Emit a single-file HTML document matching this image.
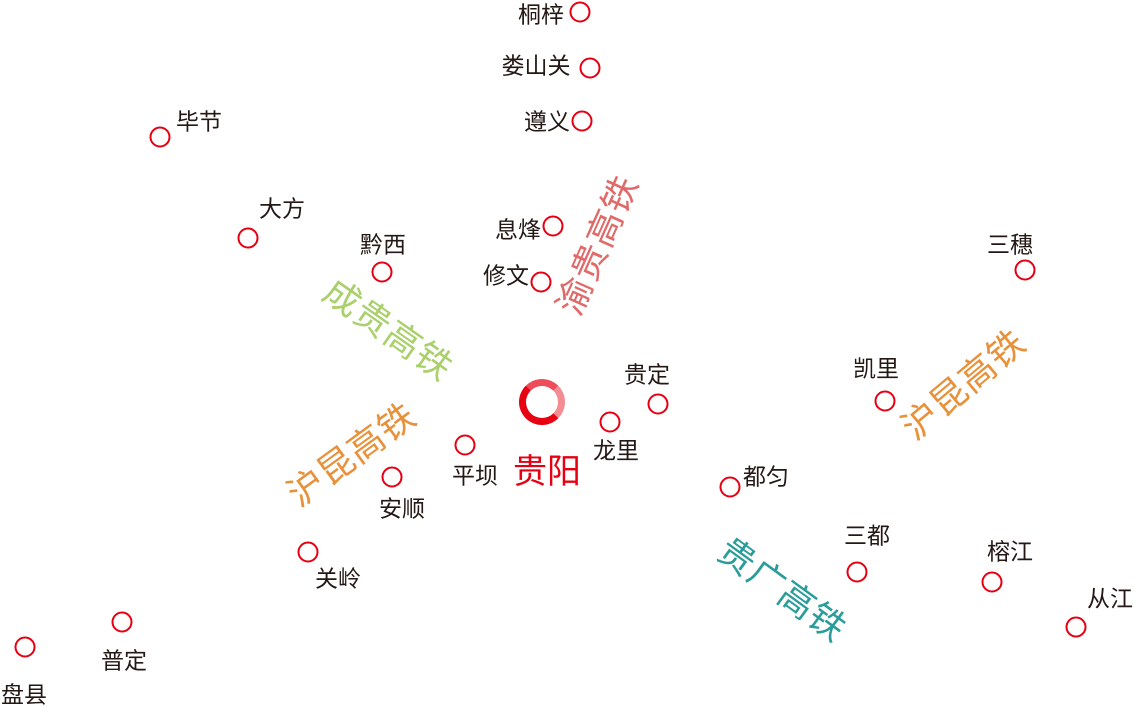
<!DOCTYPE html>
<html><head><meta charset="utf-8"><style>
html,body{margin:0;padding:0;background:#fff;}
#c{position:relative;width:1134px;height:706px;overflow:hidden;font-family:"Liberation Sans","Noto Sans CJK SC",sans-serif;}
.d{position:absolute;width:17px;height:17px;border:2.2px solid #e60012;border-radius:50%;transform:translate(-50%,-50%);box-sizing:content-box;}
.t{position:absolute;transform:translate(-50%,-50%);font-size:23px;color:#231815;white-space:nowrap;line-height:1;}
.r{position:absolute;white-space:nowrap;line-height:1;font-size:36px;font-weight:400;letter-spacing:1px;}
</style></head><body><div id="c">
<div class="d" style="left:580px;top:12px"></div><div class="t" style="left:541px;top:15px">桐梓</div>
<div class="d" style="left:590px;top:68px"></div><div class="t" style="left:536px;top:66px">娄山关</div>
<div class="d" style="left:582px;top:121px"></div><div class="t" style="left:547px;top:122px">遵义</div>
<div class="d" style="left:160px;top:137px"></div><div class="t" style="left:199px;top:122px">毕节</div>
<div class="d" style="left:248px;top:238px"></div><div class="t" style="left:282px;top:209px">大方</div>
<div class="d" style="left:382px;top:272px"></div><div class="t" style="left:383px;top:245px">黔西</div>
<div class="d" style="left:553px;top:226px"></div><div class="t" style="left:518px;top:230px">息烽</div>
<div class="d" style="left:541px;top:282px"></div><div class="t" style="left:506px;top:276px">修文</div>
<div class="d" style="left:1025px;top:270px"></div><div class="t" style="left:1010px;top:245px">三穗</div>
<div class="d" style="left:658px;top:404px"></div><div class="t" style="left:647px;top:375px">贵定</div>
<div class="d" style="left:885px;top:401px"></div><div class="t" style="left:876px;top:369px">凯里</div>
<div class="d" style="left:610px;top:422px"></div><div class="t" style="left:616px;top:451px">龙里</div>
<div class="d" style="left:465px;top:445px"></div><div class="t" style="left:475px;top:476px">平坝</div>
<div class="d" style="left:392px;top:477px"></div><div class="t" style="left:402px;top:509px">安顺</div>
<div class="d" style="left:730px;top:487px"></div><div class="t" style="left:766px;top:477px">都匀</div>
<div class="d" style="left:857px;top:572px"></div><div class="t" style="left:867px;top:536px">三都</div>
<div class="d" style="left:992px;top:582px"></div><div class="t" style="left:1010px;top:552px">榕江</div>
<div class="d" style="left:1076px;top:627px"></div><div class="t" style="left:1110px;top:599px">从江</div>
<div class="d" style="left:308px;top:552px"></div><div class="t" style="left:338px;top:579px">关岭</div>
<div class="d" style="left:122px;top:622px"></div><div class="t" style="left:124px;top:661px">普定</div>
<div class="d" style="left:25px;top:647px"></div><div class="t" style="left:24px;top:695px">盘县</div>
<div style="position:absolute;left:519px;top:379px;width:32px;height:32px;border:7px solid #e60012;border-radius:50%;border-right-color:rgba(230,0,18,0.45);border-top-color:rgba(230,0,18,0.7)"></div>
<div class="t" style="left:547px;top:472px;font-size:34px;color:#e60012;">贵阳</div>
<div class="r" style="left:598px;top:245px;color:#e06a6a;transform:translate(-50%,-50%) rotate(-66deg)">渝贵高铁</div>
<div class="r" style="left:388px;top:330px;color:#a9d06a;transform:translate(-50%,-50%) rotate(35deg)">成贵高铁</div>
<div class="r" style="left:352px;top:455px;color:#e8913a;transform:translate(-50%,-50%) rotate(-36deg)">沪昆高铁</div>
<div class="r" style="left:964px;top:385px;color:#e8913a;transform:translate(-50%,-50%) rotate(-40deg)">沪昆高铁</div>
<div class="r" style="left:782px;top:590px;color:#2a9d9a;transform:translate(-50%,-50%) rotate(36deg)">贵广高铁</div>
</div></body></html>
